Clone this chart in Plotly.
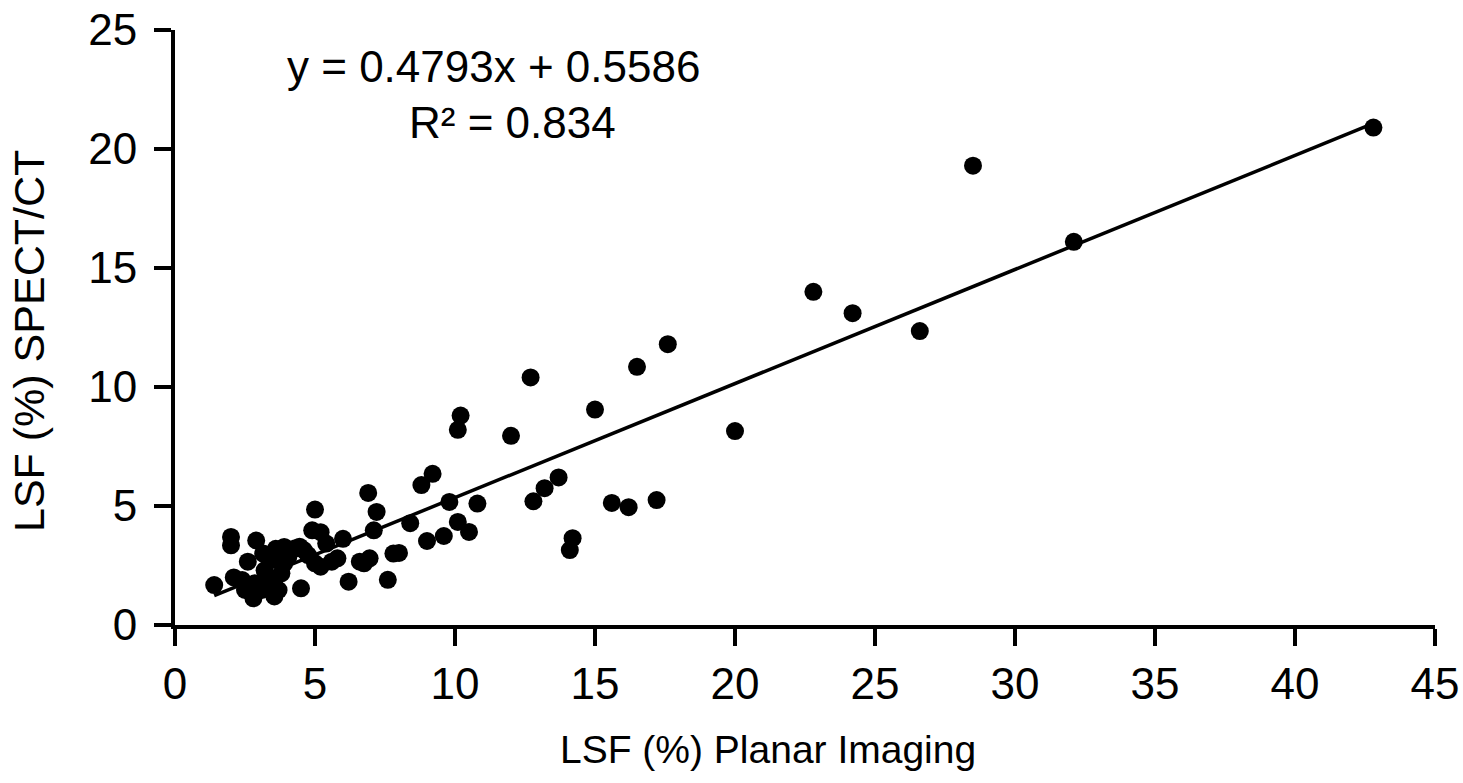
import plotly.graph_objects as go

planar = [42.8, 32.1, 28.5, 22.8, 24.2, 26.6, 17.6, 16.5, 12.7, 10.2, 10.1, 12.0, 15.0, 20.0,
          9.2, 8.8, 9.8, 10.8, 8.4, 10.1, 10.5, 9.6, 9.0, 8.0,
          13.7, 13.2, 12.8, 14.2, 14.1, 15.6, 16.2, 17.2,
          6.9, 5.0, 7.2, 2.0, 2.0, 2.9, 4.9, 5.2, 6.0, 7.1, 5.4,
          3.9, 4.3, 4.6, 3.6, 3.15, 2.6, 5.8, 5.6, 5.2, 5.0, 6.6, 6.95, 6.75, 7.8,
          7.6, 6.2, 4.5, 1.4, 2.1, 2.4, 2.8, 2.5, 3.1, 3.55, 3.55, 3.2, 3.8, 3.9, 3.45,
          2.85, 3.2, 3.7, 4.05, 4.75, 4.45]
spect = [20.9, 16.1, 19.3, 14.0, 13.1, 12.35, 11.8, 10.85, 10.4, 8.8, 8.2, 7.95, 9.05, 8.15,
         6.35, 5.88, 5.17, 5.1, 4.28, 4.33, 3.91, 3.74, 3.53, 3.03,
         6.2, 5.75, 5.2, 3.65, 3.15, 5.13, 4.95, 5.25,
         5.55, 4.85, 4.75, 3.7, 3.35, 3.55, 3.98, 3.9, 3.62, 3.98, 3.42,
         3.28, 3.22, 3.15, 3.2, 3.0, 2.66, 2.8, 2.66, 2.45, 2.59, 2.66, 2.8, 2.59, 3.0,
         1.9, 1.82, 1.54, 1.68, 2.0, 1.89, 1.12, 1.47, 1.47, 1.2, 1.89, 2.3, 2.17, 2.59, 2.73,
         1.75, 1.75, 1.47, 2.87, 2.94, 3.29]

slope = 0.4793
intercept = 0.5586
fit_x = [min(planar), max(planar)]
fit_y = [slope * v + intercept for v in fit_x]

eq_text = "y = 0.4793x + 0.5586"
r2_text = "R² = 0.834"
x_title = "LSF (%) Planar Imaging"
y_title = "LSF (%) SPECT/CT"
x_ticks = [0, 5, 10, 15, 20, 25, 30, 35, 40, 45]
y_ticks = [0, 5, 10, 15, 20, 25]

REG = "Arial, Liberation Sans, sans-serif"

fig = go.Figure()
fig.add_trace(go.Scatter(x=fit_x, y=fit_y, mode="lines",
                         line=dict(color="black", width=3.5), hoverinfo="skip"))
fig.add_trace(go.Scatter(x=planar, y=spect, mode="markers",
                         marker=dict(color="black", size=18, line=dict(width=0))))

fig.add_annotation(x=0.253, y=0.939, xref="paper", yref="paper", text=eq_text,
                   xanchor="center", yanchor="middle",
                   showarrow=False, font=dict(family=REG, size=44, color="black"))
fig.add_annotation(x=0.268, y=0.844, xref="paper", yref="paper", text=r2_text,
                   xanchor="center", yanchor="middle",
                   showarrow=False, font=dict(family=REG, size=44, color="black"))
fig.add_annotation(x=0.471, y=-0.21, xref="paper", yref="paper", text=x_title,
                   xanchor="center", yanchor="middle",
                   showarrow=False, font=dict(family=REG, size=39, color="black"))
fig.add_annotation(x=-0.116, y=0.477, xref="paper", yref="paper", text=y_title,
                   xanchor="center", yanchor="middle", textangle=-90,
                   showarrow=False, font=dict(family=REG, size=43, color="black"))

axis_common = dict(showgrid=False, zeroline=False, showline=True, linecolor="black",
                   linewidth=4, ticks="outside", ticklen=17, tickwidth=4, tickcolor="black",
                   automargin=False,
                   tickfont=dict(family=REG, size=44, color="black"))

fig.update_xaxes(range=[0, 45], tickvals=x_ticks, **axis_common)
fig.update_yaxes(range=[0, 25], tickvals=y_ticks, ticklabelstandoff=8, **axis_common)

fig.update_layout(width=1463, height=783, showlegend=False,
                  plot_bgcolor="white", paper_bgcolor="white",
                  margin=dict(l=175, r=28, t=30, b=158))
fig.write_html("out.html", config={"displayModeBar": False},
               post_script="document.body.style.margin='0';")
